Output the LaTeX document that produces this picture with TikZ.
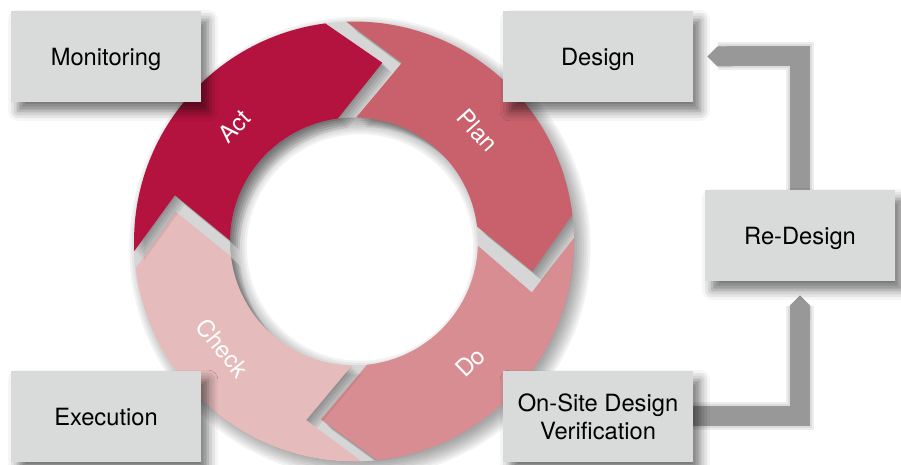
\documentclass[tikz,border=0pt]{standalone}
\usepackage{fontspec}
\setmainfont{TeX Gyre Heros}
\usetikzlibrary{arrows.meta,shadows.blur,calc}
\pgfdeclarelayer{bg}
\pgfsetlayers{bg,main}
\definecolor{actc}{HTML}{B5133F}
\definecolor{planc}{HTML}{C8616C}
\definecolor{doc}{HTML}{D78D91}
\definecolor{checkc}{HTML}{E5BBBC}
\definecolor{boxc}{HTML}{D9DBDA}
\definecolor{barc}{HTML}{989898}
\definecolor{gapc}{HTML}{D6D6D6}
\newcommand\segpath[1]{({#1+85}:4.4cm) arc[start angle={#1+85}, end angle={#1}, radius=4.4cm]
    -- ({#1-16.5}:3.62cm) -- ({#1}:2.48cm)
    arc[start angle={#1}, end angle={#1+82}, radius=2.48cm]
    -- ({#1+68}:3.7cm) -- cycle}
\newcommand\ringseg[2]{%
  \begin{scope}
    \clip (0,0) circle[radius=4.4cm];
    \foreach \s in {0.03,0.07,0.11,0.15,0.19}{
      \fill[black, opacity=0.07, shift={(\s cm,-\s cm)}] \segpath{#1};
    }
  \end{scope}
  \fill[#2] \segpath{#1};}
\tikzset{
  box/.style={fill=boxc, minimum width=3.8cm, minimum height=1.82cm, inner sep=0pt,
    align=center, text depth=0pt, font=\fontsize{13.5}{16}\selectfont,
    blur shadow={shadow xshift=0.14cm, shadow yshift=-0.18cm, shadow blur radius=0.2cm, shadow opacity=55}},
  bar/.style={draw=barc, line width=0.4cm, line join=miter, -{Triangle Cap[]}, shorten >=0.28cm},
  barshadow/.style={draw=black, opacity=0.07, line join=miter, shorten >=0.5cm},
  seglabel/.style={text=white, font=\fontsize{13.5}{16}\selectfont, inner sep=0pt},
}
\begin{document}
\begin{tikzpicture}[x=0.02cm, y=0.02cm]
\useasboundingbox (0,0) rectangle (901,465);
% ring
\begin{scope}[shift={(354,223.5)}]
  \foreach \k in {0,...,7}{
    \fill[black, opacity=0.05, even odd rule] (0.12cm,-0.12cm) circle[radius={4.3cm+\k*0.045cm}] circle[radius={2.58cm-\k*0.045cm}];
  }
  \fill[gapc, even odd rule] (0,0) circle[radius=4.4cm] circle[radius=2.48cm];
  \ringseg{-84}{doc}
  \ringseg{187}{checkc}
  \ringseg{7}{planc}
  \ringseg{97.5}{actc}
  \node[seglabel, rotate=45] (act) at (136:3.32cm) {Act};
  \node[seglabel, rotate=-48] (plan) at (42:3.32cm) {Plan};
  \node[seglabel, rotate=44] (do) at (-46:3.36cm) {Do};
  \node[seglabel, rotate=-51] (check) at (-141:3.38cm) {Check};
\end{scope}
% boxes
\node[box] (monitoring) at (106,408.5) {Monitoring};
\node[box] (design) at (598,408.5) {Design};
\node[box] (redesign) at (800,229.5) {Re-Design};
\node[box] (execution) at (106,48.5) {Execution};
\node[box] (onsite) at (598,48.5) {On-Site Design\\Verification};
% connectors
\begin{pgfonlayer}{bg}
  \foreach \w in {0.4cm,0.48cm,0.56cm}{
    \begin{scope}[shift={(0.12cm,-0.12cm)}]
      \draw[barshadow, line width=\w] (redesign.north) |- (design.east);
      \draw[barshadow, line width=\w] (onsite.east) -| (redesign.south);
    \end{scope}
  }
  \draw[bar] (redesign.north) |- (design.east);
  \draw[bar] (onsite.east) -| (redesign.south);
\end{pgfonlayer}
\end{tikzpicture}
\end{document}
